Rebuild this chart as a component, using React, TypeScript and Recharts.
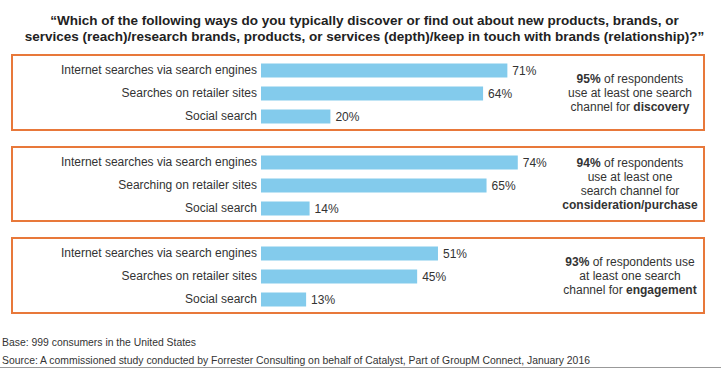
import { Bar, BarChart, LabelList, XAxis, YAxis } from "recharts";

const FONT = "'Liberation Sans', Arial, sans-serif";
const BLUE = "#83CBEC";
const ORANGE = "#E8783A";
const TEXT = "#333333";

const discoveryLabels = ["Internet searches via search engines", "Searches on retailer sites", "Social search"];
const discoveryValues = [71, 64, 20];

const considerationLabels = ["Internet searches via search engines", "Searching on retailer sites", "Social search"];
const considerationValues = [74, 65, 14];

const engagementLabels = ["Internet searches via search engines", "Searches on retailer sites", "Social search"];
const engagementValues = [51, 45, 13];

const panels = [
  {
    labels: discoveryLabels,
    values: discoveryValues,
    top: 54,
    height: 77,
    note: [
      [<b key="a">95%</b>, " of respondents"],
      ["use at least one search"],
      ["channel for ", <b key="b">discovery</b>],
    ],
  },
  {
    labels: considerationLabels,
    values: considerationValues,
    top: 146,
    height: 76,
    note: [
      [<b key="a">94%</b>, " of respondents"],
      ["use at least one"],
      ["search channel for"],
      [<b key="b">consideration/purchase</b>],
    ],
  },
  {
    labels: engagementLabels,
    values: engagementValues,
    top: 237,
    height: 77,
    note: [
      [<b key="a">93%</b>, " of respondents use"],
      ["at least one search"],
      ["channel for ", <b key="b">engagement</b>],
    ],
  },
];

function Panel({ labels, values, top, height, note }: any) {
  const data = labels.map((name: string, i: number) => ({ name, value: values[i] }));
  return (
    <div style={{ position: "absolute", left: 0, top, width: 721, height }}>
      <div
        style={{
          position: "absolute",
          left: 11,
          top: 0,
          width: 694,
          height,
          border: `2px solid ${ORANGE}`,
          boxSizing: "border-box",
        }}
      />
      <div style={{ position: "absolute", left: 0, top: 0 }}>
        <BarChart
          width={608}
          height={height}
          data={data}
          layout="vertical"
          margin={{ top: 4.5, right: 0, bottom: height - 73.5, left: 0 }}
        >
          <XAxis type="number" domain={[0, 100]} hide />
          <YAxis
            type="category"
            dataKey="name"
            width={261}
            axisLine={false}
            tickLine={false}
            tickSize={0}
            tickMargin={4}
            tick={{ fill: TEXT, fontSize: 12, fontFamily: FONT }}
          />
          <Bar dataKey="value" fill={BLUE} barSize={14} isAnimationActive={false}>
            <LabelList
              dataKey="value"
              position="right"
              offset={5}
              formatter={(v: any) => `${v}%`}
              style={{ fill: TEXT, fontSize: 12, fontFamily: FONT }}
            />
          </Bar>
        </BarChart>
      </div>
      <div
        style={{
          position: "absolute",
          left: 555,
          width: 150,
          top: 0,
          height,
          display: "flex",
          flexDirection: "column",
          justifyContent: "center",
          alignItems: "center",
          fontFamily: FONT,
          fontSize: 12,
          lineHeight: "14px",
          color: TEXT,
          textAlign: "center",
        }}
      >
        {note.map((line: any, i: number) => (
          <div key={i} style={{ whiteSpace: "nowrap" }}>
            {line}
          </div>
        ))}
      </div>
    </div>
  );
}

export default function App() {
  return (
    <div
      style={{
        position: "absolute",
        left: 0,
        top: 0,
        width: 721,
        height: 369,
        background: "#fff",
        fontFamily: FONT,
        color: TEXT,
        overflow: "hidden",
      }}
    >
      <div
        style={{
          position: "absolute",
          left: 4,
          top: 13,
          width: 721,
          textAlign: "center",
          fontWeight: "bold",
          fontSize: 13.5,
          lineHeight: "16px",
          color: "#222",
        }}
      >
        “Which of the following ways do you typically discover or find out about new products, brands, or
        <br />
        services (reach)/research brands, products, or services (depth)/keep in touch with brands (relationship)?”
      </div>
      {panels.map((p, i) => (
        <Panel key={i} {...p} />
      ))}
      <div style={{ position: "absolute", left: 2, top: 336, fontSize: 10.4, lineHeight: "13px" }}>
        Base: 999 consumers in the United States
      </div>
      <div style={{ position: "absolute", left: 2, top: 354, fontSize: 10.4, lineHeight: "13px" }}>
        Source: A commissioned study conducted by Forrester Consulting on behalf of Catalyst, Part of GroupM Connect, January 2016
      </div>
      <div
        style={{ position: "absolute", left: 0, top: 367, width: 721, height: 1, background: "#999" }}
      />
    </div>
  );
}
